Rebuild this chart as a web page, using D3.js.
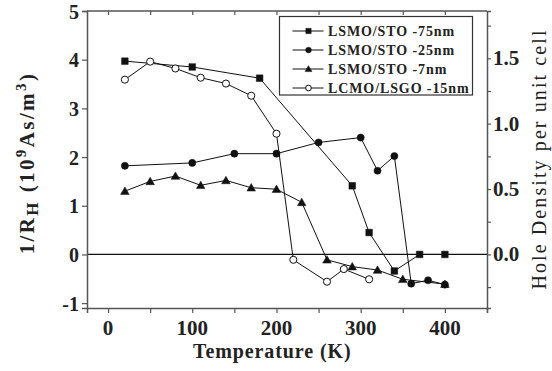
<!DOCTYPE html>
<html>
<head>
<meta charset="utf-8">
<script src="https://cdn.jsdelivr.net/npm/d3@7"></script>
<style>
  body { margin: 0; background: #fff; }
  text { font-family: "Liberation Serif", serif; }
</style>
</head>
<body>
<svg id="chart" width="552" height="371"></svg>
<script>
// Data
var temp75 = [20, 100, 180, 290, 310, 340, 370, 400];
var inv75 = [3.97, 3.85, 3.62, 1.41, 0.45, -0.34, 0, 0];

var temp25 = [20, 100, 150, 200, 250, 300, 320, 340, 360, 380, 400];
var inv25 = [1.82, 1.88, 2.07, 2.07, 2.30, 2.40, 1.72, 2.02, -0.60, -0.53, -0.62];

var temp7 = [20, 50, 80, 110, 140, 170, 200, 230, 260, 290, 320, 350, 400];
var inv7 = [1.30, 1.50, 1.61, 1.42, 1.52, 1.37, 1.34, 1.07, -0.11, -0.25, -0.32, -0.51, -0.61];

var tempL = [20, 50, 80, 110, 140, 170, 200, 220, 260, 280, 310];
var invL = [3.59, 3.96, 3.82, 3.63, 3.51, 3.26, 2.48, -0.11, -0.56, -0.30, -0.51];

var seriesNames = ["LSMO/STO -75nm", "LSMO/STO -25nm", "LSMO/STO -7nm", "LCMO/LSGO -15nm"];
var xTicks = [0, 100, 200, 300, 400];
var yTicks = [-1, 0, 1, 2, 3, 4, 5];
var yRightTicks = [0.0, 0.5, 1.0, 1.5];

var margin = { top: 11, right: 65, bottom: 63, left: 87 };
var width = 400;
var height = 297;

var svg = d3.select("#chart");
var g = svg.append("g").attr("transform", `translate(${margin.left},${margin.top})`);

var x = d3.scaleLinear().domain([-25, 450]).range([0, width]);
var y = d3.scaleLinear().domain([-1.1, 5]).range([height, 0]);
var yR = d3.scaleLinear().domain([-0.41, 1.862]).range([height, 0]);

var frameColor = "#555";

// zero line
g.append("line")
    .attr("x1", 0).attr("x2", width)
    .attr("y1", y(0)).attr("y2", y(0))
    .attr("stroke", "#111").attr("stroke-width", 1.2);

// Bottom axis
var xAxis = g.append("g")
    .attr("transform", `translate(0,${height})`)
    .call(d3.axisBottom(x).tickValues(d3.range(0, 451, 50)).tickSize(5).tickFormat(""));
xAxis.select(".domain").attr("stroke", frameColor).attr("stroke-width", 1.5);
xAxis.selectAll("line").attr("stroke", frameColor).attr("stroke-width", 1.2);

g.selectAll(".xlab")
    .data(xTicks)
    .join("text")
    .attr("x", d => x(d))
    .attr("y", height + 27)
    .attr("text-anchor", "middle")
    .attr("font-size", 21)
    .attr("font-weight", "bold")
    .attr("fill", "#222")
    .text(d => d);

// Top axis (ticks inward)
var xTop = g.append("g")
    .call(d3.axisBottom(x).tickValues(d3.range(0, 401, 50)).tickSize(4).tickFormat(""));
xTop.select(".domain").attr("stroke", frameColor).attr("stroke-width", 1.5).attr("d", `M0,0H${width}`);
xTop.selectAll("line").attr("stroke", frameColor).attr("stroke-width", 1.2);

// Left axis
var yAxis = g.append("g")
    .call(d3.axisLeft(y).tickValues(yTicks).tickSize(5).tickFormat(""));
yAxis.select(".domain").attr("stroke", frameColor).attr("stroke-width", 1.5);
yAxis.selectAll("line").attr("stroke", frameColor).attr("stroke-width", 1.2);

g.selectAll(".ylab")
    .data(yTicks)
    .join("text")
    .attr("x", -8)
    .attr("y", d => y(d) + 7.5)
    .attr("text-anchor", "end")
    .attr("font-size", 20)
    .attr("font-weight", "bold")
    .attr("fill", "#222")
    .text(d => d);

// Right axis (hole density)
var yAxisR = g.append("g")
    .attr("transform", `translate(${width},0)`)
    .call(d3.axisRight(yR).tickValues(d3.range(-0.25, 1.76, 0.25)).tickSize(4).tickFormat(""));
yAxisR.select(".domain").attr("stroke", frameColor).attr("stroke-width", 1.5);
yAxisR.selectAll("line").attr("stroke", frameColor).attr("stroke-width", 1.2);

g.selectAll(".yrlab")
    .data(yRightTicks)
    .join("text")
    .attr("x", width + 6)
    .attr("y", d => yR(d) + 7)
    .attr("text-anchor", "start")
    .attr("font-size", 21)
    .attr("font-weight", "bold")
    .attr("fill", "#222")
    .text(d => d3.format(".1f")(d));

// Axis titles
svg.append("text")
    .attr("x", margin.left + x(195))
    .attr("y", 358)
    .attr("text-anchor", "middle")
    .attr("font-size", 20)
    .attr("font-weight", "bold")
    .attr("letter-spacing", 0.9)
    .attr("fill", "#222")
    .text("Temperature (K)");

var yTitle = svg.append("text")
    .attr("transform", "translate(34,163) rotate(-90)")
    .attr("text-anchor", "middle")
    .attr("font-size", 21)
    .attr("font-weight", "bold")
    .attr("letter-spacing", 2.4)
    .attr("fill", "#222");
yTitle.append("tspan").text("1/R");
yTitle.append("tspan").attr("font-size", 17).attr("dy", 4).text("H");
yTitle.append("tspan").attr("dy", -4).text(" (10");
yTitle.append("tspan").attr("font-size", 15).attr("dy", -8).text("9");
yTitle.append("tspan").attr("dy", 8).text("As/m");
yTitle.append("tspan").attr("font-size", 15).attr("dy", -8).text("3");
yTitle.append("tspan").attr("dy", 8).text(")");

svg.append("text")
    .attr("transform", "translate(546,159) rotate(-90)")
    .attr("text-anchor", "middle")
    .attr("font-size", 20)
    .attr("letter-spacing", 2.1)
    .attr("fill", "#222")
    .text("Hole Density per unit cell");

// Series
var series = [
    { name: seriesNames[0], t: temp75, v: inv75, shape: "square" },
    { name: seriesNames[1], t: temp25, v: inv25, shape: "circle" },
    { name: seriesNames[2], t: temp7, v: inv7, shape: "triangle" },
    { name: seriesNames[3], t: tempL, v: invL, shape: "open" }
];

function symbolFor(shape, big) {
    var k = big ? 1 : 0.8;
    if (shape === "square") return d3.symbol().type(d3.symbolSquare).size(44 * k * k)();
    if (shape === "triangle") return d3.symbol().type(d3.symbolTriangle).size(32 * k * k)();
    return d3.symbol().type(d3.symbolCircle).size(40 * k * k)();
}

var line = d3.line().x(d => x(d[0])).y(d => y(d[1]));

series.forEach(function (s) {
    var pts = s.t.map((t, i) => [t, s.v[i]]);
    g.append("path")
        .datum(pts)
        .attr("d", line)
        .attr("fill", "none")
        .attr("stroke", "#111")
        .attr("stroke-width", 1);
});

series.forEach(function (s) {
    var pts = s.t.map((t, i) => [t, s.v[i]]);
    g.selectAll(null)
        .data(pts)
        .join("path")
        .attr("transform", d => `translate(${x(d[0])},${y(d[1]) + (s.shape === "triangle" ? 0.8 : 0)})`)
        .attr("d", symbolFor(s.shape, true))
        .attr("fill", s.shape === "open" ? "#fff" : "#111")
        .attr("stroke", "#111")
        .attr("stroke-width", s.shape === "open" ? 1 : 0.5);
});

// Legend
var legend = svg.append("g").attr("transform", "translate(279.5,16.5)");
legend.append("rect")
    .attr("width", 193)
    .attr("height", 78.5)
    .attr("fill", "#fff")
    .attr("stroke", "#333")
    .attr("stroke-width", 1.2);

series.forEach(function (s, i) {
    var ly = 14.5 + i * 19;
    legend.append("line")
        .attr("x1", 13).attr("x2", 44)
        .attr("y1", ly).attr("y2", ly)
        .attr("stroke", "#111").attr("stroke-width", 1);
    legend.append("path")
        .attr("transform", `translate(29,${ly + (s.shape === "triangle" ? 0.6 : 0)})`)
        .attr("d", symbolFor(s.shape, false))
        .attr("fill", s.shape === "open" ? "#fff" : "#111")
        .attr("stroke", "#111")
        .attr("stroke-width", s.shape === "open" ? 1 : 0.5);
    legend.append("text")
        .attr("x", 48.5)
        .attr("y", ly + 5)
        .attr("font-size", 14)
        .attr("font-weight", "bold")
        .attr("letter-spacing", 0.9)
        .attr("fill", "#222")
        .text(s.name);
});
</script>
</body>
</html>
